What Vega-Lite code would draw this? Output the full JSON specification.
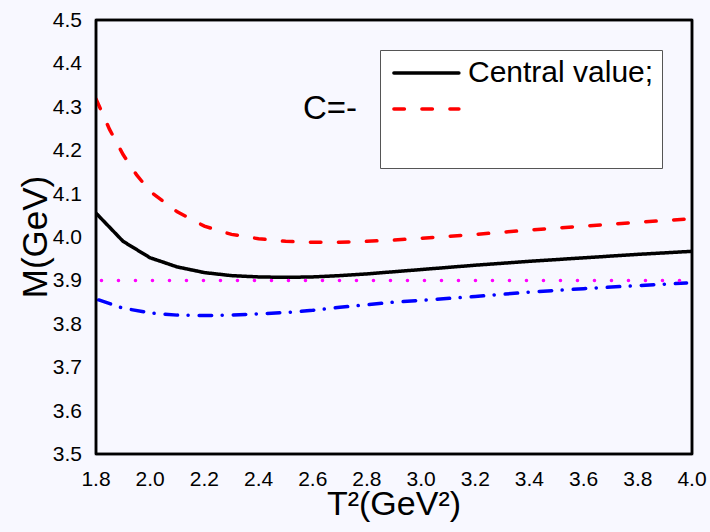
{
  "$schema": "https://vega.github.io/schema/vega-lite/v6.json",
  "width": 596,
  "height": 434,
  "autosize": "none",
  "padding": {"left": 96, "top": 20, "right": 18, "bottom": 78},
  "background": "#F8F8FF",
  "config": {
    "font": "Liberation Sans",
    "view": {"stroke": "black", "strokeWidth": 2.5}
  },
  "datasets": {
    "curves": [
      {"x": 1.8, "y": 4.055, "s": "central"},
      {"x": 1.9, "y": 3.990, "s": "central"},
      {"x": 2.0, "y": 3.952, "s": "central"},
      {"x": 2.1, "y": 3.931, "s": "central"},
      {"x": 2.2, "y": 3.918, "s": "central"},
      {"x": 2.3, "y": 3.911, "s": "central"},
      {"x": 2.4, "y": 3.908, "s": "central"},
      {"x": 2.5, "y": 3.907, "s": "central"},
      {"x": 2.6, "y": 3.908, "s": "central"},
      {"x": 2.7, "y": 3.911, "s": "central"},
      {"x": 2.8, "y": 3.915, "s": "central"},
      {"x": 2.9, "y": 3.920, "s": "central"},
      {"x": 3.0, "y": 3.925, "s": "central"},
      {"x": 3.2, "y": 3.935, "s": "central"},
      {"x": 3.4, "y": 3.944, "s": "central"},
      {"x": 3.6, "y": 3.952, "s": "central"},
      {"x": 3.8, "y": 3.960, "s": "central"},
      {"x": 4.0, "y": 3.967, "s": "central"},
      {"x": 1.8, "y": 4.318, "s": "upper"},
      {"x": 1.85, "y": 4.248, "s": "upper"},
      {"x": 1.9, "y": 4.190, "s": "upper"},
      {"x": 1.95, "y": 4.143, "s": "upper"},
      {"x": 2.0, "y": 4.105, "s": "upper"},
      {"x": 2.1, "y": 4.058, "s": "upper"},
      {"x": 2.2, "y": 4.025, "s": "upper"},
      {"x": 2.3, "y": 4.006, "s": "upper"},
      {"x": 2.4, "y": 3.996, "s": "upper"},
      {"x": 2.5, "y": 3.990, "s": "upper"},
      {"x": 2.6, "y": 3.988, "s": "upper"},
      {"x": 2.7, "y": 3.988, "s": "upper"},
      {"x": 2.8, "y": 3.990, "s": "upper"},
      {"x": 2.9, "y": 3.993, "s": "upper"},
      {"x": 3.0, "y": 3.997, "s": "upper"},
      {"x": 3.2, "y": 4.006, "s": "upper"},
      {"x": 3.4, "y": 4.016, "s": "upper"},
      {"x": 3.6, "y": 4.025, "s": "upper"},
      {"x": 3.8, "y": 4.034, "s": "upper"},
      {"x": 4.0, "y": 4.042, "s": "upper"},
      {"x": 1.81, "y": 3.855, "s": "lower"},
      {"x": 1.9, "y": 3.836, "s": "lower"},
      {"x": 2.0, "y": 3.825, "s": "lower"},
      {"x": 2.1, "y": 3.820, "s": "lower"},
      {"x": 2.2, "y": 3.819, "s": "lower"},
      {"x": 2.3, "y": 3.820, "s": "lower"},
      {"x": 2.4, "y": 3.823, "s": "lower"},
      {"x": 2.5, "y": 3.826, "s": "lower"},
      {"x": 2.6, "y": 3.831, "s": "lower"},
      {"x": 2.7, "y": 3.838, "s": "lower"},
      {"x": 2.8, "y": 3.844, "s": "lower"},
      {"x": 2.9, "y": 3.850, "s": "lower"},
      {"x": 3.0, "y": 3.854, "s": "lower"},
      {"x": 3.2, "y": 3.863, "s": "lower"},
      {"x": 3.4, "y": 3.873, "s": "lower"},
      {"x": 3.6, "y": 3.881, "s": "lower"},
      {"x": 3.8, "y": 3.888, "s": "lower"},
      {"x": 3.98, "y": 3.894, "s": "lower"},
      {"x": 1.82, "y": 3.9, "s": "ref"},
      {"x": 3.96, "y": 3.9, "s": "ref"}
    ],
    "xticks": [
      {"v": 1.8, "k": "major"}, {"v": 1.9, "k": "minor"}, {"v": 2.0, "k": "major"}, {"v": 2.1, "k": "minor"},
      {"v": 2.2, "k": "major"}, {"v": 2.3, "k": "minor"}, {"v": 2.4, "k": "major"}, {"v": 2.5, "k": "minor"},
      {"v": 2.6, "k": "major"}, {"v": 2.7, "k": "minor"}, {"v": 2.8, "k": "major"}, {"v": 2.9, "k": "minor"},
      {"v": 3.0, "k": "major"}, {"v": 3.1, "k": "minor"}, {"v": 3.2, "k": "major"}, {"v": 3.3, "k": "minor"},
      {"v": 3.4, "k": "major"}, {"v": 3.5, "k": "minor"}, {"v": 3.6, "k": "major"}, {"v": 3.7, "k": "minor"},
      {"v": 3.8, "k": "major"}, {"v": 3.9, "k": "minor"}, {"v": 4.0, "k": "major"}
    ],
    "yticks": [
      {"v": 3.5, "k": "major"}, {"v": 3.55, "k": "minor"}, {"v": 3.6, "k": "major"}, {"v": 3.65, "k": "minor"},
      {"v": 3.7, "k": "major"}, {"v": 3.75, "k": "minor"}, {"v": 3.8, "k": "major"}, {"v": 3.85, "k": "minor"},
      {"v": 3.9, "k": "major"}, {"v": 3.95, "k": "minor"}, {"v": 4.0, "k": "major"}, {"v": 4.05, "k": "minor"},
      {"v": 4.1, "k": "major"}, {"v": 4.15, "k": "minor"}, {"v": 4.2, "k": "major"}, {"v": 4.25, "k": "minor"},
      {"v": 4.3, "k": "major"}, {"v": 4.35, "k": "minor"}, {"v": 4.4, "k": "major"}, {"v": 4.45, "k": "minor"},
      {"v": 4.5, "k": "major"}
    ],
    "note": [{"label": "C=-"}],
    "xtitle": [{"label": "T²(GeV²)"}],
    "ytitle": [{"label": "M(GeV)"}],
    "frame": [{"a": 1}]
  },
  "layer": [
    {
      "data": {"name": "curves"},
      "mark": {"type": "line", "strokeWidth": 3.5, "strokeCap": "round", "clip": true},
      "encoding": {
        "x": {"field": "x", "type": "quantitative", "scale": {"domain": [1.8, 4.0], "nice": false, "zero": false}, "axis": null},
        "y": {"field": "y", "type": "quantitative", "scale": {"domain": [3.5, 4.5], "nice": false, "zero": false}, "axis": null},
        "color": {"field": "s", "type": "nominal",
          "scale": {"domain": ["central", "upper", "lower", "ref"], "range": ["#000000", "#FF0000", "#0000FF", "#FF00FF"]},
          "legend": {"orient": "top-right", "offset": 30, "title": null, "values": ["central", "upper", "lower"],
            "labelExpr": "datum.value === 'central' ? 'Central value;' : ''",
            "labelFontSize": 30, "labelColor": "black", "labelOffset": 50, "labelLimit": 400,
            "symbolType": "M-0.7,0H4.3", "symbolSize": 676, "symbolStrokeWidth": 3.5,
            "padding": 8, "rowPadding": 6, "strokeColor": "#555555", "fillColor": "white", "cornerRadius": 0,
            "encode": {"symbols": {"update": {"opacity": {"signal": "datum.value === 'lower' ? 0 : 1"}, "strokeCap": {"value": "round"}}}}}},
        "strokeDash": {"field": "s", "type": "nominal",
          "scale": {"domain": ["central", "upper", "lower", "ref"], "range": [[1, 0], [10.5, 17.5], [12.5, 10.5, 0.1, 11], [0.1, 16.9]]},
          "legend": {"orient": "top-right", "offset": 30, "title": null, "values": ["central", "upper", "lower"],
            "labelExpr": "datum.value === 'central' ? 'Central value;' : ''",
            "labelFontSize": 30, "labelColor": "black", "labelOffset": 50, "labelLimit": 400,
            "symbolType": "M-0.7,0H4.3", "symbolSize": 676, "symbolStrokeWidth": 3.5,
            "padding": 8, "rowPadding": 6, "strokeColor": "#555555", "fillColor": "white", "cornerRadius": 0,
            "encode": {"symbols": {"update": {"opacity": {"signal": "datum.value === 'lower' ? 0 : 1"}, "strokeCap": {"value": "round"}}}}}}
      }
    },
    {
      "data": {"name": "xticks"},
      "mark": {"type": "rule", "strokeWidth": 2, "color": "black"},
      "encoding": {
        "x": {"field": "v", "type": "quantitative", "axis": null},
        "y": {"datum": 3.5, "type": "quantitative", "axis": null},
        "y2": {"datum": 3.5},
        "y2Offset": {"condition": {"test": "datum.k === 'major'", "value": -11}, "value": -6}
      }
    },
    {
      "data": {"name": "xticks"},
      "mark": {"type": "rule", "strokeWidth": 2, "color": "black"},
      "encoding": {
        "x": {"field": "v", "type": "quantitative", "axis": null},
        "y": {"datum": 4.5, "type": "quantitative", "axis": null},
        "y2": {"datum": 4.5},
        "y2Offset": {"condition": {"test": "datum.k === 'major'", "value": 11}, "value": 6}
      }
    },
    {
      "data": {"name": "yticks"},
      "mark": {"type": "rule", "strokeWidth": 2, "color": "black"},
      "encoding": {
        "y": {"field": "v", "type": "quantitative", "axis": null},
        "x": {"datum": 1.8, "type": "quantitative", "axis": null},
        "x2": {"datum": 1.8},
        "x2Offset": {"condition": {"test": "datum.k === 'major'", "value": 11}, "value": 6}
      }
    },
    {
      "data": {"name": "yticks"},
      "mark": {"type": "rule", "strokeWidth": 2, "color": "black"},
      "encoding": {
        "y": {"field": "v", "type": "quantitative", "axis": null},
        "x": {"datum": 4.0, "type": "quantitative", "axis": null},
        "x2": {"datum": 4.0},
        "x2Offset": {"condition": {"test": "datum.k === 'major'", "value": -11}, "value": -6}
      }
    },
    {
      "data": {"name": "frame"},
      "mark": {"type": "rule", "strokeWidth": 2.5, "color": "black"},
      "encoding": {
        "x": {"datum": 1.8, "type": "quantitative", "axis": null},
        "x2": {"datum": 4.0},
        "y": {"datum": 4.5, "type": "quantitative", "axis": null}
      }
    },
    {
      "data": {"name": "frame"},
      "mark": {"type": "rule", "strokeWidth": 2.5, "color": "black"},
      "encoding": {
        "x": {"datum": 1.8, "type": "quantitative", "axis": null},
        "x2": {"datum": 4.0},
        "y": {"datum": 3.5, "type": "quantitative", "axis": null}
      }
    },
    {
      "data": {"name": "frame"},
      "mark": {"type": "rule", "strokeWidth": 2.5, "color": "black"},
      "encoding": {
        "y": {"datum": 3.5, "type": "quantitative", "axis": null},
        "y2": {"datum": 4.5},
        "x": {"datum": 1.8, "type": "quantitative", "axis": null}
      }
    },
    {
      "data": {"name": "frame"},
      "mark": {"type": "rule", "strokeWidth": 2.5, "color": "black"},
      "encoding": {
        "y": {"datum": 3.5, "type": "quantitative", "axis": null},
        "y2": {"datum": 4.5},
        "x": {"datum": 4.0, "type": "quantitative", "axis": null}
      }
    },
    {
      "data": {"name": "xticks"},
      "transform": [{"filter": "datum.k === 'major'"}],
      "mark": {"type": "text", "fontSize": 21, "font": "Liberation Sans", "align": "center", "baseline": "alphabetic", "dy": 31.5, "color": "black"},
      "encoding": {
        "text": {"field": "v", "type": "quantitative", "format": ".1f"},
        "x": {"field": "v", "type": "quantitative", "axis": null},
        "y": {"datum": 3.5, "type": "quantitative", "axis": null}
      }
    },
    {
      "data": {"name": "yticks"},
      "transform": [{"filter": "datum.k === 'major'"}],
      "mark": {"type": "text", "fontSize": 21, "font": "Liberation Sans", "align": "right", "baseline": "middle", "dx": -14, "dy": 1, "color": "black"},
      "encoding": {
        "text": {"field": "v", "type": "quantitative", "format": ".1f"},
        "y": {"field": "v", "type": "quantitative", "axis": null},
        "x": {"datum": 1.8, "type": "quantitative", "axis": null}
      }
    },
    {
      "data": {"name": "xtitle"},
      "mark": {"type": "text", "fontSize": 34, "font": "Liberation Sans", "align": "center", "baseline": "alphabetic", "dy": 61, "color": "black"},
      "encoding": {
        "text": {"field": "label"},
        "x": {"datum": 2.9, "type": "quantitative", "axis": null},
        "y": {"datum": 3.5, "type": "quantitative", "axis": null}
      }
    },
    {
      "data": {"name": "ytitle"},
      "mark": {"type": "text", "fontSize": 35, "font": "Liberation Sans", "align": "center", "baseline": "alphabetic", "angle": 270, "color": "black"},
      "encoding": {
        "text": {"field": "label"},
        "x": {"datum": 1.619, "type": "quantitative", "axis": null},
        "y": {"datum": 4.0, "type": "quantitative", "axis": null}
      }
    },
    {
      "data": {"name": "note"},
      "mark": {"type": "text", "fontSize": 33, "font": "Liberation Sans", "align": "left", "baseline": "alphabetic", "color": "black"},
      "encoding": {
        "text": {"field": "label"},
        "x": {"datum": 2.564, "type": "quantitative", "axis": null},
        "y": {"datum": 4.272, "type": "quantitative", "axis": null}
      }
    }
  ]
}
